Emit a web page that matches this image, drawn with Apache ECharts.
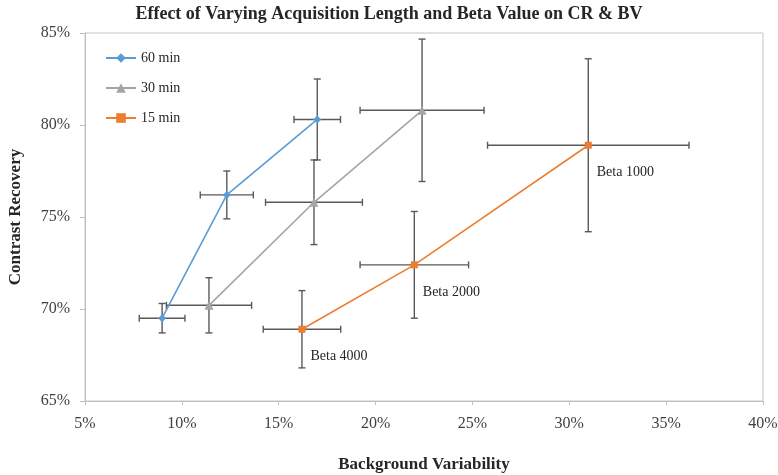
<!DOCTYPE html>
<html>
<head>
<meta charset="utf-8">
<script src="https://cdn.jsdelivr.net/npm/echarts@6/dist/echarts.min.js"></script>
<style>html,body{margin:0;padding:0;background:#fff}#c{width:778px;height:475px}</style>
</head>
<body>
<div id="c"></div>
<script>
// Background variability (x, %) and contrast recovery (y, %)
const bv60 = [8.98, 12.32, 16.99];
const cr60 = [69.5, 76.2, 80.3];
const bvErr60 = [1.18, 1.37, 1.2];
const crErr60 = [0.8, 1.3, 2.2];

const bv30 = [11.4, 16.82, 22.4];
const cr30 = [70.2, 75.8, 80.8];
const bvErr30 = [2.2, 2.5, 3.2];
const crErr30 = [1.5, 2.3, 3.87];

const bv15 = [16.2, 22.0, 30.98];
const cr15 = [68.9, 72.4, 78.9];
const bvErr15 = [2.0, 2.8, 5.2];
const crErr15 = [2.1, 2.9, 4.7];
const betaLabels = ['Beta 4000', 'Beta 2000', 'Beta 1000'];

const seriesNames = ['60 min', '30 min', '15 min'];
const xTicks = [5, 10, 15, 20, 25, 30, 35, 40];
const yTicks = [65, 70, 75, 80, 85];

const FONT = 'Liberation Serif';
const chart = echarts.init(document.getElementById('c'), null, {renderer: 'canvas'});

function errSeries(name, xs, ys, xe, ye) {
  return {
    type: 'custom', name: name, z: 1, silent: true,
    renderItem: function (params, api) {
      const x = api.value(0), y = api.value(1), dx = api.value(2), dy = api.value(3);
      const l = api.coord([x - dx, y]), r = api.coord([x + dx, y]);
      const t = api.coord([x, y + dy]), b = api.coord([x, y - dy]);
      const cap = 3.5;
      const style = {stroke: '#595959', lineWidth: 1.4};
      const ln = (x1, y1, x2, y2) => ({type: 'line', shape: {x1, y1, x2, y2}, style});
      return {type: 'group', children: [
        ln(l[0], l[1], r[0], r[1]),
        ln(l[0], l[1] - cap, l[0], l[1] + cap),
        ln(r[0], r[1] - cap, r[0], r[1] + cap),
        ln(t[0], t[1], b[0], b[1]),
        ln(t[0] - cap, t[1], t[0] + cap, t[1]),
        ln(b[0] - cap, b[1], b[0] + cap, b[1])
      ]};
    },
    encode: {x: 0, y: 1},
    data: xs.map((v, i) => [v, ys[i], xe[i], ye[i]])
  };
}

function lineSeries(name, xs, ys, color, symbol, size, labels) {
  const s = {
    type: 'line', name: name, z: 3,
    symbol: symbol, symbolSize: size,
    lineStyle: {color: color, width: 1.6},
    itemStyle: {color: color},
    data: xs.map((v, i) => [v, ys[i]])
  };
  if (labels) {
    s.label = {
      show: true, position: 'right', offset: [0, 27],
      fontFamily: FONT, fontSize: 14, color: '#262626',
      formatter: p => labels[p.dataIndex]
    };
  }
  return s;
}

chart.setOption({
  animation: false,
  backgroundColor: '#fff',
  title: {
    text: 'Effect of Varying Acquisition Length and Beta Value on CR & BV',
    left: 'center', top: 0,
    textStyle: {fontFamily: FONT, fontWeight: 'bold', fontSize: 18, color: '#262626'}
  },
  grid: {left: 85, right: 15, top: 33, bottom: 74, show: true, borderColor: '#c4c4c4', borderWidth: 1,
         containLabel: false, outerBoundsMode: 'none'},
  legend: {
    data: seriesNames, orient: 'vertical', left: 100, top: 46,
    itemWidth: 30, itemHeight: 12, itemGap: 16,
    textStyle: {fontFamily: FONT, fontSize: 14, color: '#262626'}
  },
  xAxis: {
    type: 'value', min: xTicks[0], max: xTicks[xTicks.length - 1], interval: 5,
    name: 'Background Variability', nameLocation: 'middle', nameGap: 55,
    nameTextStyle: {fontFamily: FONT, fontWeight: 'bold', fontSize: 17, color: '#262626'},
    axisLine: {show: true, lineStyle: {color: '#bfbfbf'}},
    axisTick: {show: true, length: 4, lineStyle: {color: '#bfbfbf'}},
    splitLine: {show: false},
    axisLabel: {fontFamily: FONT, fontSize: 16, color: '#404040', margin: 15, formatter: '{value}%'}
  },
  yAxis: {
    type: 'value', min: yTicks[0], max: yTicks[yTicks.length - 1], interval: 5,
    name: 'Contrast Recovery', nameLocation: 'middle', nameGap: 61,
    nameTextStyle: {fontFamily: FONT, fontWeight: 'bold', fontSize: 17, color: '#262626'},
    axisLine: {show: true, lineStyle: {color: '#bfbfbf'}},
    axisTick: {show: true, length: 5, lineStyle: {color: '#bfbfbf'}},
    splitLine: {show: false},
    axisLabel: {fontFamily: FONT, fontSize: 16, color: '#404040', margin: 15, formatter: '{value}%'}
  },
  series: [
    errSeries('err60', bv60, cr60, bvErr60, crErr60),
    errSeries('err30', bv30, cr30, bvErr30, crErr30),
    errSeries('err15', bv15, cr15, bvErr15, crErr15),
    lineSeries(seriesNames[0], bv60, cr60, '#5b9bd5', 'diamond', 8),
    lineSeries(seriesNames[1], bv30, cr30, '#a5a5a5', 'triangle', 9),
    lineSeries(seriesNames[2], bv15, cr15, '#ed7d31', 'rect', 7, betaLabels)
  ]
});
</script>
</body>
</html>
